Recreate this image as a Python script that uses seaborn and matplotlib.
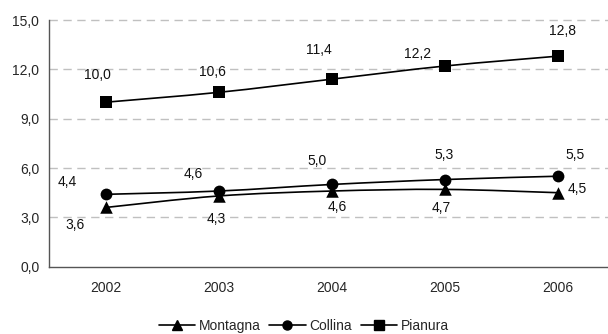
import numpy as np
import pandas as pd
import matplotlib
matplotlib.use("Agg")
import matplotlib.pyplot as plt
from matplotlib.path import Path
from matplotlib.patches import PathPatch
from matplotlib.lines import Line2D
import seaborn as sns

years = ["2002", "2003", "2004", "2005", "2006"]
montagna = [3.6, 4.3, 4.6, 4.7, 4.5]
collina = [4.4, 4.6, 5.0, 5.3, 5.5]
pianura = [10.0, 10.6, 11.4, 12.2, 12.8]
series_names = ["Montagna", "Collina", "Pianura"]
y_ticks = [0.0, 3.0, 6.0, 9.0, 12.0, 15.0]

sns.set_theme(style="white")
plt.rcParams["font.family"] = ["Liberation Sans", "DejaVu Sans"]

df = pd.DataFrame({
    "anno": np.tile(np.arange(len(years)), 3),
    "valore": montagna + collina + pianura,
    "zona": np.repeat(series_names, len(years)),
})

markers = {"Montagna": "^", "Collina": "o", "Pianura": "s"}
msizes = {"Montagna": 9, "Collina": 8.5, "Pianura": 8.5}

fig = plt.figure(figsize=(6.08, 3.34), dpi=100)
ax = fig.add_axes([49 / 608, (334 - 266.7) / 334, 565 / 608, (266.7 - 20) / 334])


def smooth_path(xs, ys):
    pts = np.column_stack([xs, ys]).astype(float)
    verts = [pts[0]]
    codes = [Path.MOVETO]
    n = len(pts)
    for i in range(n - 1):
        p0 = pts[i - 1] if i > 0 else pts[i]
        p1 = pts[i]
        p2 = pts[i + 1]
        p3 = pts[i + 2] if i + 2 < n else pts[i + 1]
        c1 = p1 + (p2 - p0) / 6.0
        c2 = p2 - (p3 - p1) / 6.0
        verts += [c1, c2, p2]
        codes += [Path.CURVE4] * 3
    return Path(verts, codes)


# smoothed connecting lines
for name in series_names:
    sub = df[df["zona"] == name]
    patch = PathPatch(smooth_path(sub["anno"].values, sub["valore"].values),
                      facecolor="none", edgecolor="black", lw=1.2, zorder=3)
    ax.add_patch(patch)

# markers
for name in series_names:
    sub = df[df["zona"] == name]
    sns.scatterplot(data=sub, x="anno", y="valore", marker=markers[name],
                    s=msizes[name] ** 2, color="black", edgecolor="black",
                    linewidth=0, ax=ax, zorder=4, legend=False)

# value labels with pixel offsets
offsets = {
    "Montagna": [(-30, -18), (-2, -23), (6, -16), (-3, -19), (20, 4)],
    "Collina": [(-38, 12), (-25, 17), (-14, 23), (0, 25), (18, 21)],
    "Pianura": [(-8, 27), (-6, 20), (-13, 29), (-27, 12), (5, 25)],
}
vals = {"Montagna": montagna, "Collina": collina, "Pianura": pianura}
for name in series_names:
    for i, v in enumerate(vals[name]):
        ax.annotate(f"{v:.1f}".replace(".", ","), (i, v),
                    xytext=offsets[name][i], textcoords="offset pixels",
                    ha="center", va="center", fontsize=10, color="#111111")

ax.set_xlim(-0.5, len(years) - 0.5)
ax.set_ylim(0, 15)
ax.set_yticks(y_ticks)
ax.set_yticklabels([f"{t:.1f}".replace(".", ",") for t in y_ticks], fontsize=10)
ax.set_xticks(np.arange(-0.5, len(years)), minor=False)
ax.set_xticklabels([])
ax.set_xticks(np.arange(len(years)), minor=True)
ax.set_xticklabels(years, minor=True, fontsize=10)
ax.tick_params(axis="x", which="major", direction="out", length=4, width=1,
               color="#444444")
ax.tick_params(axis="x", which="minor", length=0, pad=10)
ax.tick_params(axis="y", direction="out", length=4, width=1, color="#444444",
               pad=3)
ax.set_xlabel("")
ax.set_ylabel("")

for yv in y_ticks[1:]:
    ax.axhline(yv, color="#c0c0c0", lw=1, ls=(0, (6, 4)), zorder=1,
               clip_on=False)

for s in ["top", "right"]:
    ax.spines[s].set_visible(False)
for s in ["left", "bottom"]:
    ax.spines[s].set_color("#555555")
    ax.spines[s].set_linewidth(1)

handles = [Line2D([], [], color="black", lw=1.2, marker=markers[n],
                  markersize=6.5, label=n) for n in series_names]
fig.legend(handles=handles, loc="center", bbox_to_anchor=(0.5, 8 / 334),
           ncol=3, frameon=False, fontsize=10, handlelength=2.6,
           handletextpad=0.3, columnspacing=0.6)

fig.savefig("out.png", dpi=100)
